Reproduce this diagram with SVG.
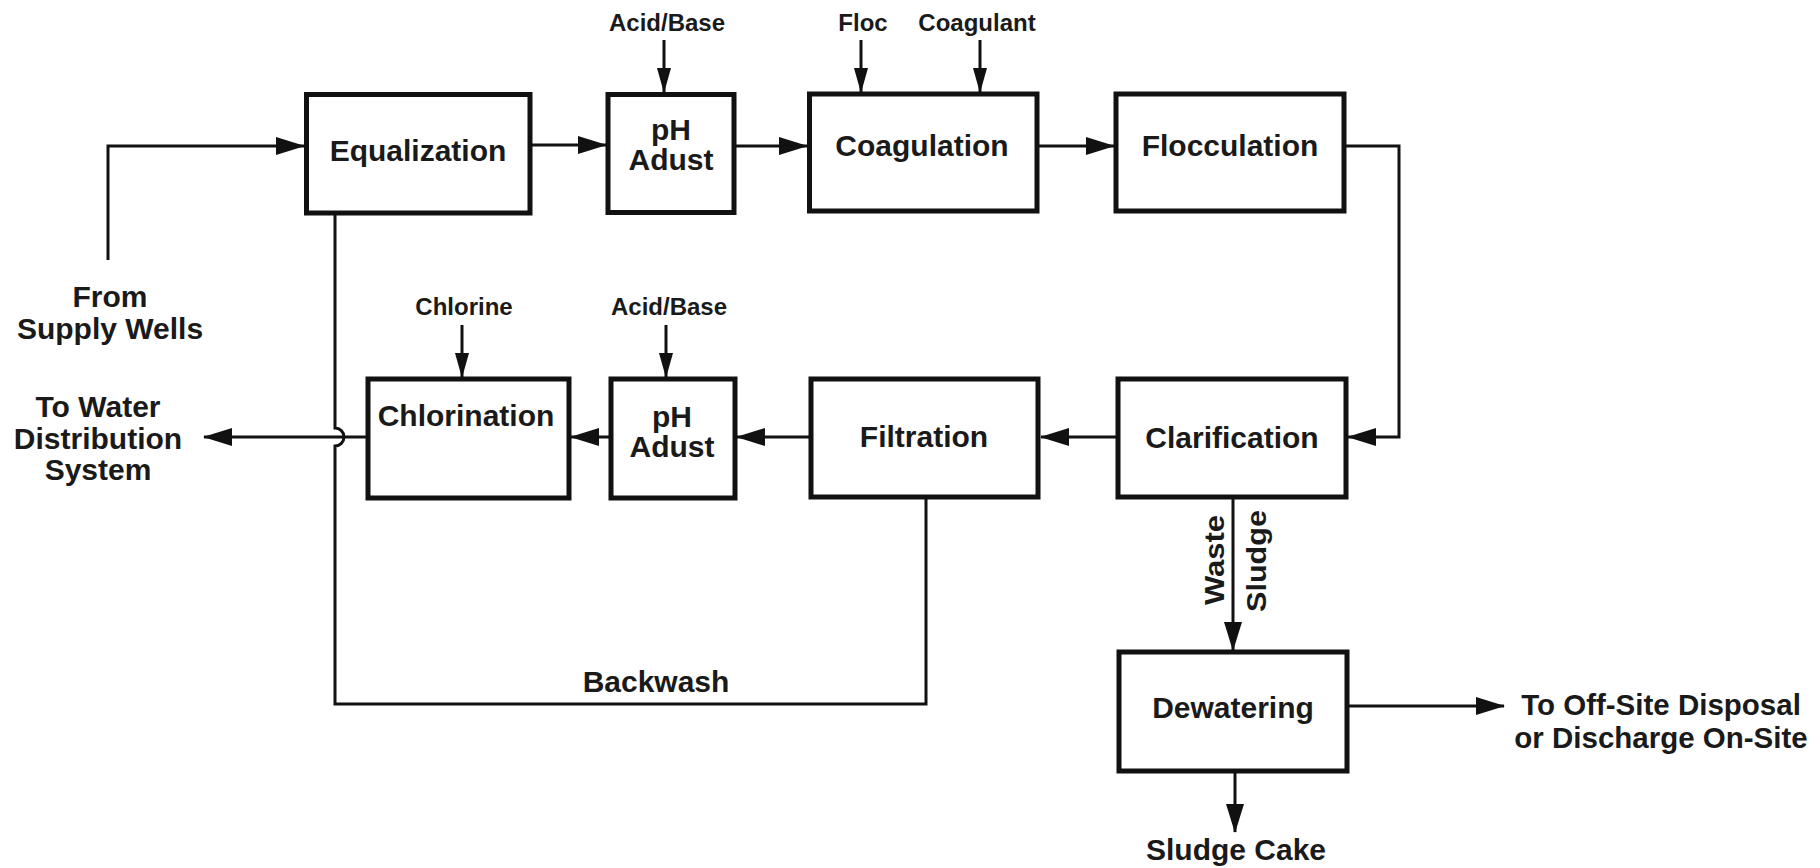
<svg xmlns="http://www.w3.org/2000/svg" width="1820" height="868" viewBox="0 0 1820 868">
<style>
.box{fill:#fff;stroke:#111;stroke-width:5}
.lbl{font-family:"Liberation Sans",Arial,Helvetica,sans-serif;font-weight:bold;font-size:30px;fill:#1a1a1a;text-anchor:middle}
.sm{font-size:24px}
.ln{fill:none;stroke:#111;stroke-width:3}
.rl{fill:none;stroke:#111;stroke-width:3}
</style>
<defs>
<marker id="ah" viewBox="0 0 29 18" markerWidth="29" markerHeight="18" refX="28" refY="9" orient="auto" markerUnits="userSpaceOnUse"><path d="M0,0 L29,9 L0,18 z" fill="#111"/></marker>
<marker id="as" viewBox="0 0 25 14" markerWidth="25" markerHeight="14" refX="24" refY="7" orient="auto" markerUnits="userSpaceOnUse"><path d="M0,0 L25,7 L0,14 z" fill="#111"/></marker>
</defs>
<rect width="1820" height="868" fill="#fff"/>

<g id="connectors">
<path class="ln" d="M108,260 V146 H304" marker-end="url(#ah)"/>
<path class="ln" d="M531,145 H606" marker-end="url(#ah)"/>
<path class="ln" d="M734,146 H807" marker-end="url(#ah)"/>
<path class="ln" d="M1037,146 H1114" marker-end="url(#ah)"/>
<path class="ln" d="M1346,146 H1399 V437 H1348" marker-end="url(#ah)"/>
<path class="ln" d="M1116,437 H1041" marker-end="url(#ah)"/>
<path class="ln" d="M809,437 H737" marker-end="url(#ah)"/>
<path class="ln" d="M609,437 H571" marker-end="url(#ah)"/>
<path class="ln" d="M366,437 H204" stroke-width="2.5" marker-end="url(#ah)"/>
<path class="ln" d="M335,213 V428 A9,9 0 0 1 335,446 V704 H926 V498"/>
<path class="ln" d="M1233,497 V650" marker-end="url(#ah)"/>
<path class="ln" d="M1349,706 H1504" marker-end="url(#ah)"/>
<path class="ln" d="M1235,773 V832" marker-end="url(#ah)"/>
<path class="rl" d="M664,40 V92" marker-end="url(#as)"/>
<path class="rl" d="M861,40 V92" marker-end="url(#as)"/>
<path class="rl" d="M980,40 V92" marker-end="url(#as)"/>
<path class="rl" d="M462,325 V377" marker-end="url(#as)"/>
<path class="rl" d="M666,325 V377" marker-end="url(#as)"/>
</g>

<g id="equalization"><rect class="box" x="306.5" y="94.5" width="223.5" height="118.5"/><text class="lbl" x="418" y="161">Equalization</text></g>
<g id="ph-adust-1"><rect class="box" x="608" y="94.5" width="126" height="118"/><text class="lbl" x="671" y="140">pH</text><text class="lbl" x="671" y="170">Adust</text></g>
<g id="coagulation"><rect class="box" x="809.5" y="94" width="227.5" height="117"/><text class="lbl" x="922" y="156">Coagulation</text></g>
<g id="flocculation"><rect class="box" x="1116" y="94" width="228" height="117"/><text class="lbl" x="1230" y="156">Flocculation</text></g>
<g id="chlorination"><rect class="box" x="368" y="379" width="201" height="119"/><text class="lbl" x="466" y="426">Chlorination</text></g>
<g id="ph-adust-2"><rect class="box" x="611" y="379" width="124" height="119"/><text class="lbl" x="672" y="427">pH</text><text class="lbl" x="672" y="457">Adust</text></g>
<g id="filtration"><rect class="box" x="811" y="379" width="227" height="118"/><text class="lbl" x="924" y="447">Filtration</text></g>
<g id="clarification"><rect class="box" x="1118" y="379" width="228" height="118"/><text class="lbl" x="1232" y="448">Clarification</text></g>
<g id="dewatering"><rect class="box" x="1119" y="652" width="228" height="119"/><text class="lbl" x="1233" y="718">Dewatering</text></g>

<g id="labels">
<text class="lbl sm" x="667" y="31">Acid/Base</text>
<text class="lbl sm" x="863" y="31">Floc</text>
<text class="lbl sm" x="977" y="31">Coagulant</text>
<text class="lbl sm" x="464" y="315">Chlorine</text>
<text class="lbl sm" x="669" y="315">Acid/Base</text>
<text class="lbl" x="110" y="307">From</text>
<text class="lbl" x="110" y="339">Supply Wells</text>
<text class="lbl" x="98" y="417">To Water</text>
<text class="lbl" x="98" y="449">Distribution</text>
<text class="lbl" x="98" y="480">System</text>
<text class="lbl" x="656" y="692">Backwash</text>
<text class="lbl" style="font-size:27px" textLength="90" lengthAdjust="spacingAndGlyphs" transform="translate(1224,560) rotate(-90)">Waste</text>
<text class="lbl" style="font-size:27px" textLength="102" lengthAdjust="spacingAndGlyphs" transform="translate(1266,561) rotate(-90)">Sludge</text>
<text class="lbl" style="font-size:29.5px" x="1661" y="715">To Off-Site Disposal</text>
<text class="lbl" style="font-size:29.5px" x="1661" y="748">or Discharge On-Site</text>
<text class="lbl" x="1236" y="860">Sludge Cake</text>
</g>
</svg>
